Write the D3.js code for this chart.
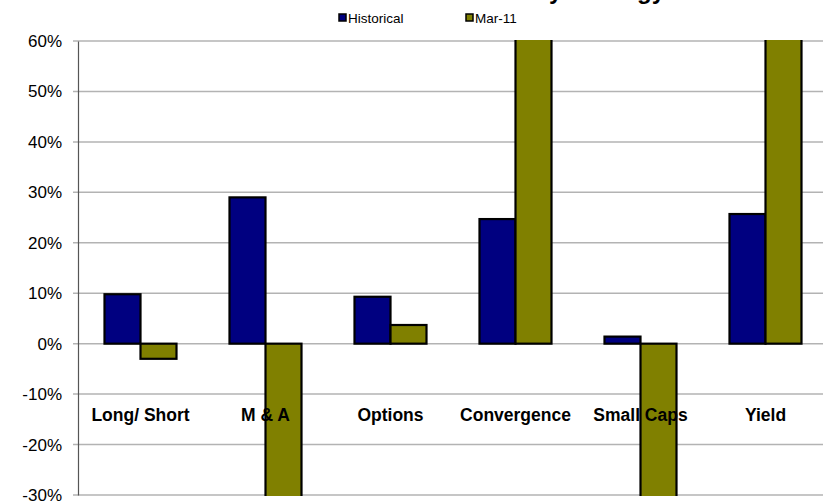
<!DOCTYPE html>
<html>
<head>
<meta charset="utf-8">
<script src="https://cdn.jsdelivr.net/npm/d3@7"></script>
<style>
  body { margin: 0; background: #fff; }
  svg { display: block; font-family: Arial, "Liberation Sans", sans-serif; }
</style>
</head>
<body>
<div id="chart"></div>
<script>
const categories = ["Long/ Short", "M & A", "Options", "Convergence", "Small Caps", "Yield"]
const historical = [0.098, 0.29, 0.093, 0.247, 0.014, 0.257]
// Mar-11 bars for M & A, Convergence, Small Caps and Yield run off the chart
const mar11 = [-0.03, -0.45, 0.037, 0.75, -0.42, 0.72]
const seriesNames = ["Historical", "Mar-11"]
const yTicks = [-0.3, -0.2, -0.1, 0, 0.1, 0.2, 0.3, 0.4, 0.5, 0.6]

const width = 823,
      height = 503,
      margin = {top: 41, right: -5, bottom: 8, left: 78}

const colors = ["#000080", "#808000"]

const svg = d3.select("#chart")
  .append("svg")
  .attr("width", width)
  .attr("height", height)

const x = d3.scaleBand()
    .domain(categories)
    .range([margin.left, width - margin.right])

const x1 = d3.scaleBand()
    .domain(seriesNames)
    .range([0, 72])

const y = d3.scaleLinear()
    .domain([-0.3, 0.6])
    .range([height - margin.bottom, margin.top])

// plain hyphen for negatives, like the original
const pct = d => Math.round(d * 100) + "%"

// title, mostly cut off at the top
svg.append("text")
  .attr("x", 665)
  .attr("y", -1)
  .attr("text-anchor", "end")
  .attr("font-size", 24)
  .attr("font-weight", "bold")
  .text("Returns by Strategy")

// gridlines
svg.append("g")
  .selectAll("line")
  .data(yTicks)
  .join("line")
    .attr("x1", margin.left - 5)
    .attr("x2", width)
    .attr("y1", d => y(d))
    .attr("y2", d => y(d))
    .attr("stroke", "#b3b3b3")
    .attr("stroke-width", 1.5)

// y axis
svg.append("g")
  .attr("transform", `translate(${margin.left},0)`)
  .call(d3.axisLeft(y).tickValues(yTicks).tickFormat(pct).tickSize(0).tickPadding(16))
  .call(g => g.select(".domain").attr("stroke", "#555").attr("stroke-width", 1.2))
  .call(g => g.selectAll(".tick text")
      .attr("font-size", 17)
      .attr("font-family", "Arial, 'Liberation Sans', sans-serif")
      .attr("fill", "#000"))

svg.append("clipPath").attr("id", "plot")
  .append("rect")
    .attr("x", margin.left)
    .attr("y", y(0.6) - 1)
    .attr("width", width)
    .attr("height", y(-0.3) - y(0.6) + 2)

const rows = categories.map((c, i) => ({cat: c, vals: [historical[i], mar11[i]]}))

svg.append("g")
  .attr("clip-path", "url(#plot)")
  .selectAll("g")
  .data(rows)
  .join("g")
    .attr("transform", d => `translate(${x(d.cat) + (x.bandwidth() - 72) / 2},0)`)
  .selectAll("rect")
  .data(d => d.vals.map((v, j) => ({name: seriesNames[j], v: v, j: j})))
  .join("rect")
    .attr("x", d => x1(d.name))
    .attr("width", x1.bandwidth())
    .attr("y", d => y(Math.max(0, d.v)))
    .attr("height", d => Math.abs(y(d.v) - y(0)))
    .attr("fill", d => colors[d.j])
    .attr("stroke", "#000")
    .attr("stroke-width", 2.2)

// category labels
svg.append("g")
  .selectAll("text")
  .data(categories)
  .join("text")
    .attr("x", d => x(d) + x.bandwidth() / 2)
    .attr("y", 421)
    .attr("text-anchor", "middle")
    .attr("font-size", 17.5)
    .attr("font-weight", "bold")
    .text(d => d)

// legend
const legend = svg.append("g")
  .selectAll("g")
  .data(seriesNames)
  .join("g")
    .attr("transform", (d, i) => `translate(${339 + i * 127},14)`)

legend.append("rect")
  .attr("width", 7)
  .attr("height", 7)
  .attr("fill", (d, i) => colors[i])
  .attr("stroke", "#000")
  .attr("stroke-width", 1.5)

legend.append("text")
  .attr("x", 9)
  .attr("y", 8.5)
  .attr("font-size", 13.5)
  .text(d => d)
</script>
</body>
</html>
